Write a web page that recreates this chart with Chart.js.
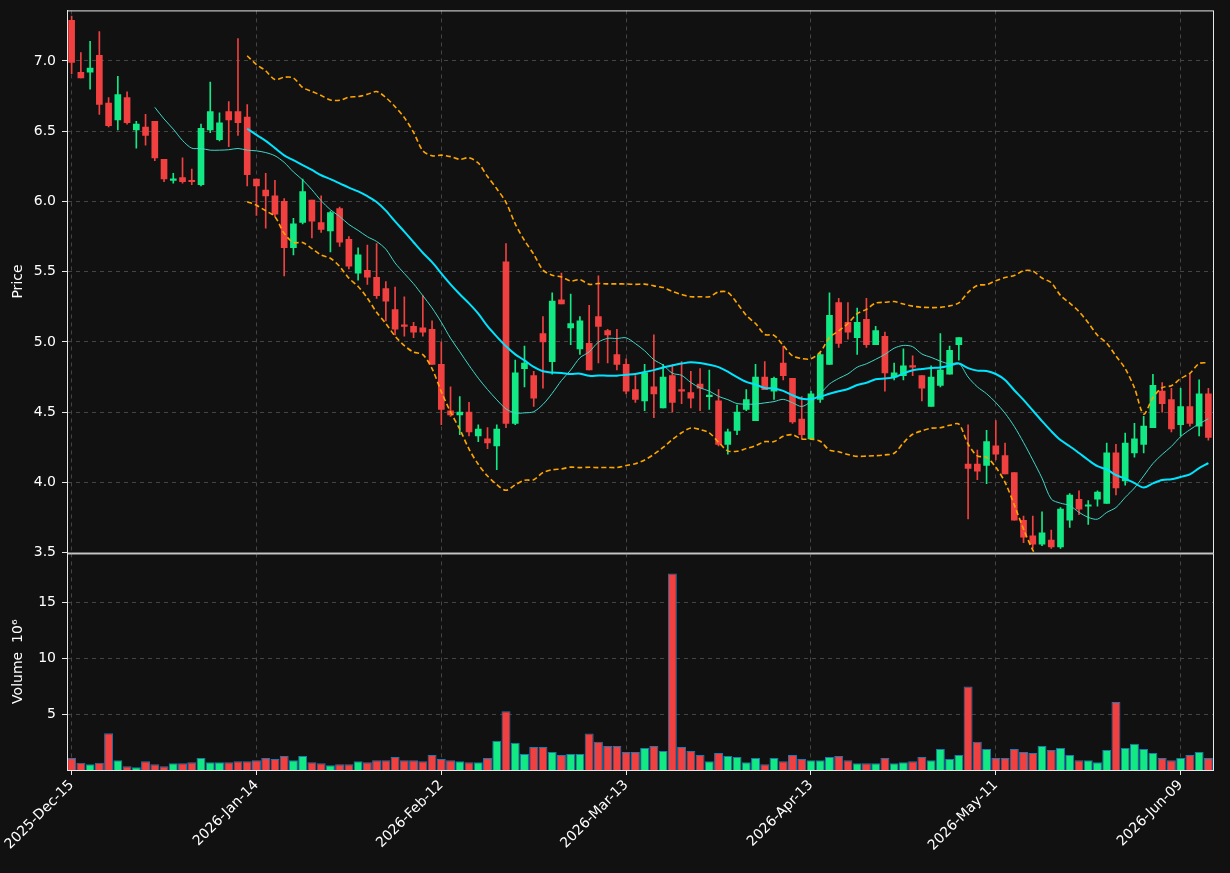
<!DOCTYPE html>
<html><head><meta charset="utf-8">
<script src="https://cdn.jsdelivr.net/npm/chart.js@4"></script>
<style>
html,body{margin:0;padding:0;background:#111111;width:1230px;height:873px;overflow:hidden}
.c{position:absolute;left:0}
</style></head><body>
<div class="c" style="top:-4px;width:1230px;height:571px"><canvas id="p"></canvas></div>
<div class="c" style="top:539px;width:1230px;height:334px"><canvas id="v"></canvas></div>
<script>
const tickLabels = ["2025-Dec-15","2026-Jan-14","2026-Feb-12","2026-Mar-13","2026-Apr-13","2026-May-11","2026-Jun-09"];
const openP  = [7.29,6.92,6.92,7.04,6.70,6.58,6.74,6.51,6.53,6.57,6.30,6.15,6.17,6.15,6.12,6.51,6.44,6.64,6.64,6.60,6.16,6.08,6.04,6.00,5.67,5.85,6.01,5.85,5.79,5.95,5.73,5.49,5.51,5.46,5.38,5.23,5.12,5.11,5.10,5.09,4.84,4.51,4.48,4.50,4.33,4.31,4.26,5.57,4.42,4.81,4.76,5.06,4.86,5.30,5.10,4.95,4.99,5.18,5.08,4.91,4.84,4.66,4.58,4.68,4.53,4.76,4.66,4.64,4.70,4.61,4.58,4.27,4.37,4.52,4.44,4.75,4.65,4.85,4.74,4.45,4.31,4.59,4.84,5.28,5.14,5.03,5.16,4.98,5.04,4.75,4.76,4.83,4.76,4.54,4.69,4.77,4.98,4.13,4.13,4.12,4.26,4.19,4.07,3.73,3.62,3.56,3.59,3.54,3.73,3.88,3.83,3.88,3.85,4.21,4.01,4.21,4.27,4.39,4.65,4.59,4.41,4.54,4.40,4.63];
const highP  = [7.32,7.06,7.14,7.21,6.74,6.89,6.78,6.57,6.62,6.57,6.30,6.20,6.31,6.23,6.55,6.85,6.63,6.71,7.16,6.69,6.16,6.20,6.15,6.02,5.88,6.16,6.01,6.04,5.93,5.96,5.75,5.67,5.69,5.70,5.43,5.39,5.32,5.14,5.33,5.15,5.00,4.68,4.61,4.57,4.41,4.39,4.41,5.70,4.87,4.97,4.79,5.18,5.35,5.49,5.34,5.18,5.26,5.47,5.09,5.09,4.88,4.76,4.84,5.05,4.84,4.84,4.86,4.79,4.81,4.80,4.66,4.38,4.55,4.66,4.84,4.86,4.75,4.97,4.74,4.61,4.65,4.92,5.35,5.31,5.28,5.24,5.31,5.11,5.07,4.85,4.95,4.90,4.76,4.83,5.06,4.97,5.03,4.41,4.23,4.37,4.44,4.28,4.07,3.76,3.76,3.79,3.66,3.82,3.92,3.94,3.87,3.94,4.28,4.27,4.35,4.42,4.47,4.77,4.71,4.67,4.67,4.77,4.73,4.67];
const lowP   = [6.91,6.88,6.80,6.62,6.53,6.51,6.55,6.38,6.40,6.29,6.14,6.13,6.13,6.12,6.11,6.49,6.43,6.39,6.47,6.11,5.90,5.81,5.89,5.47,5.62,5.84,5.74,5.78,5.64,5.68,5.52,5.44,5.41,5.31,5.15,5.05,5.04,5.03,5.04,4.84,4.41,4.47,4.34,4.33,4.29,4.24,4.09,4.39,4.41,4.68,4.54,4.67,4.77,5.27,4.98,4.91,4.80,4.85,4.85,4.80,4.63,4.57,4.51,4.46,4.53,4.50,4.56,4.53,4.51,4.52,4.26,4.20,4.34,4.51,4.44,4.66,4.59,4.73,4.42,4.31,4.31,4.57,4.84,4.96,5.02,4.91,4.96,4.98,4.65,4.73,4.73,4.76,4.58,4.54,4.68,4.77,4.87,3.74,4.02,3.99,4.16,4.06,3.73,3.57,3.53,3.55,3.53,3.53,3.68,3.77,3.70,3.83,3.85,3.91,3.98,4.18,4.21,4.39,4.50,4.36,4.33,4.40,4.33,4.30];
const closeP = [6.99,6.88,6.95,6.69,6.54,6.76,6.56,6.55,6.47,6.31,6.16,6.16,6.14,6.14,6.52,6.64,6.56,6.58,6.56,6.19,6.11,6.04,5.91,5.67,5.84,6.07,5.86,5.80,5.92,5.71,5.54,5.62,5.46,5.33,5.29,5.09,5.11,5.07,5.07,4.84,4.52,4.48,4.50,4.36,4.38,4.28,4.38,4.42,4.78,4.85,4.60,5.00,5.29,5.27,5.13,5.15,4.80,5.11,5.05,4.84,4.65,4.59,4.78,4.63,4.75,4.57,4.65,4.60,4.67,4.61,4.27,4.36,4.50,4.59,4.75,4.66,4.74,4.76,4.43,4.34,4.63,4.91,5.19,4.99,5.07,5.14,4.98,5.08,4.78,4.78,4.83,4.82,4.67,4.75,4.80,4.94,5.03,4.10,4.08,4.29,4.20,4.06,3.73,3.61,3.56,3.64,3.54,3.81,3.91,3.81,3.84,3.93,4.21,3.96,4.28,4.31,4.40,4.69,4.56,4.38,4.54,4.42,4.63,4.32];
const volume = [1.07,0.64,0.52,0.64,3.29,0.88,0.34,0.24,0.79,0.52,0.34,0.61,0.61,0.70,1.07,0.70,0.70,0.70,0.79,0.79,0.88,1.07,0.98,1.25,0.88,1.25,0.70,0.61,0.43,0.52,0.52,0.79,0.70,0.88,0.88,1.16,0.88,0.88,0.79,1.34,0.98,0.88,0.79,0.70,0.70,1.07,2.62,5.27,2.44,1.43,2.07,2.07,1.62,1.34,1.43,1.43,3.26,2.53,2.16,2.16,1.62,1.62,1.98,2.16,1.71,17.6,2.07,1.71,1.34,0.79,1.52,1.25,1.16,0.70,1.07,0.52,1.07,0.79,1.34,0.98,0.88,0.88,1.16,1.25,0.88,0.61,0.61,0.61,1.07,0.61,0.70,0.79,1.16,0.88,1.89,0.98,1.34,7.47,2.53,1.89,1.07,1.07,1.89,1.62,1.52,2.16,1.80,1.98,1.34,0.88,0.88,0.70,1.80,6.10,1.98,2.35,1.89,1.52,1.07,0.88,1.07,1.34,1.62,1.07];

const labels = closeP.map((_, i) => i % 20 === 0 ? tickLabels[i / 20] : '');
const UP = '#12e883', DOWN = '#f04040';
const col = closeP.map((c, i) => c >= openP[i] ? UP : DOWN);

function sma(n) { return closeP.map((_, i) => { if (i < n - 1) return null; let s = 0; for (let k = i - n + 1; k <= i; k++) s += closeP[k]; return s / n; }); }
const ma10 = sma(10), ma20 = sma(20);
const bbU = [], bbL = [];
closeP.forEach((_, i) => {
  if (i < 19) { bbU.push(null); bbL.push(null); return; }
  const m = ma20[i]; let v = 0;
  for (let k = i - 19; k <= i; k++) v += (closeP[k] - m) ** 2;
  const sd = Math.sqrt(v / 20);
  bbU.push(m + 2 * sd); bbL.push(m - 2 * sd);
});

const GRID = '#444444';
const CLEAR = 'rgba(0,0,0,0)';
const font = { family: 'DejaVu Sans', size: 14 };
const frame = { id: 'frame', afterDraw(c) { const a = c.chartArea, x = c.ctx; x.save(); x.setLineDash([]); x.strokeStyle = '#e8e8e8'; x.lineWidth = 1; x.strokeRect(a.left + 0.5, a.top + 0.5, a.right - a.left, a.bottom - a.top); x.restore(); } };
const leftW = s => { s.width = 57; };
const yBorder = { color: '#e8e8e8', dash: [4, 4] };
const xBorder = { display: false, dash: [4, 4] };

new Chart(document.getElementById('p'), {
  data: {
    labels,
    datasets: [
      { type: 'line', data: bbU, borderColor: '#ffa500', borderWidth: 1.6, borderDash: [5, 3], pointRadius: 0, tension: 0.3, order: 0 },
      { type: 'line', data: bbL, borderColor: '#ffa500', borderWidth: 1.6, borderDash: [5, 3], pointRadius: 0, tension: 0.3, order: 0 },
      { type: 'line', data: ma20, borderColor: '#00e5ff', borderWidth: 2, pointRadius: 0, tension: 0.3, order: 0 },
      { type: 'line', data: ma10, borderColor: '#40d8c8', borderWidth: 1, pointRadius: 0, tension: 0.3, order: 0 },
      { type: 'bar', data: lowP.map((l, i) => [l, highP[i]]), backgroundColor: col, barThickness: 1, grouped: false, order: 2 },
      { type: 'bar', data: openP.map((o, i) => [o, closeP[i]]), backgroundColor: col, barThickness: 6, minBarLength: 1.5, grouped: false, order: 1 }
    ]
  },
  options: {
    responsive: true, maintainAspectRatio: false, animation: false,
    layout: { padding: { top: 6, right: 17, bottom: 0, left: 10 } },
    plugins: { legend: { display: false }, tooltip: { enabled: false } },
    scales: {
      x: { type: 'category', offset: true, grid: { color: ctx => (ctx.index % 20 === 0 ? GRID : CLEAR), offset: false, drawTicks: false }, border: xBorder, ticks: { display: false, autoSkip: false }, afterFit: s => { s.height = 0; } },
      y: { min: 3.5, max: 7.36, afterFit: leftW, border: yBorder,
        grid: { color: ctx => ctx.tick.value === 3.5 ? CLEAR : GRID, tickColor: '#e8e8e8', tickLength: 5 },
        afterBuildTicks: s => { s.ticks = [3.5, 4, 4.5, 5, 5.5, 6, 6.5, 7].map(v => ({ value: v })); },
        ticks: { color: '#ffffff', font, callback: v => v.toFixed(1), padding: 6 },
        title: { display: true, text: 'Price', color: '#ffffff', font, padding: { top: 0, bottom: 4 } } }
    }
  },
  plugins: [frame]
});

new Chart(document.getElementById('v'), {
  type: 'bar',
  data: { labels, datasets: [{ data: volume, backgroundColor: col, borderColor: '#1f77b4', borderWidth: 1, barPercentage: 1, categoryPercentage: 0.97 }] },
  options: {
    responsive: true, maintainAspectRatio: false, animation: false,
    layout: { padding: { top: 14, right: 17, bottom: 0, left: 10 } },
    plugins: { legend: { display: false }, tooltip: { enabled: false } },
    scales: {
      x: { offset: true, grid: { color: ctx => (ctx.index % 20 === 0 ? GRID : CLEAR), offset: false, tickColor: ctx => (ctx.index % 20 === 0 ? '#e8e8e8' : CLEAR), tickLength: 5 },
        border: xBorder,
        ticks: { autoSkip: false, maxRotation: 45, minRotation: 45, color: '#ffffff', font, padding: 2 },
        afterFit: s => { s.height = 103; } },
      y: { min: 0, max: 19.4, afterFit: leftW, border: yBorder,
        grid: { color: GRID, tickColor: '#e8e8e8', tickLength: 5 },
        afterBuildTicks: s => { s.ticks = [5, 10, 15].map(v => ({ value: v })); },
        ticks: { color: '#ffffff', font, padding: 6 },
        title: { display: true, text: 'Volume  10\u2076', color: '#ffffff', font, padding: { top: 0, bottom: 4 } } }
    }
  },
  plugins: [frame]
});
</script>
</body></html>
